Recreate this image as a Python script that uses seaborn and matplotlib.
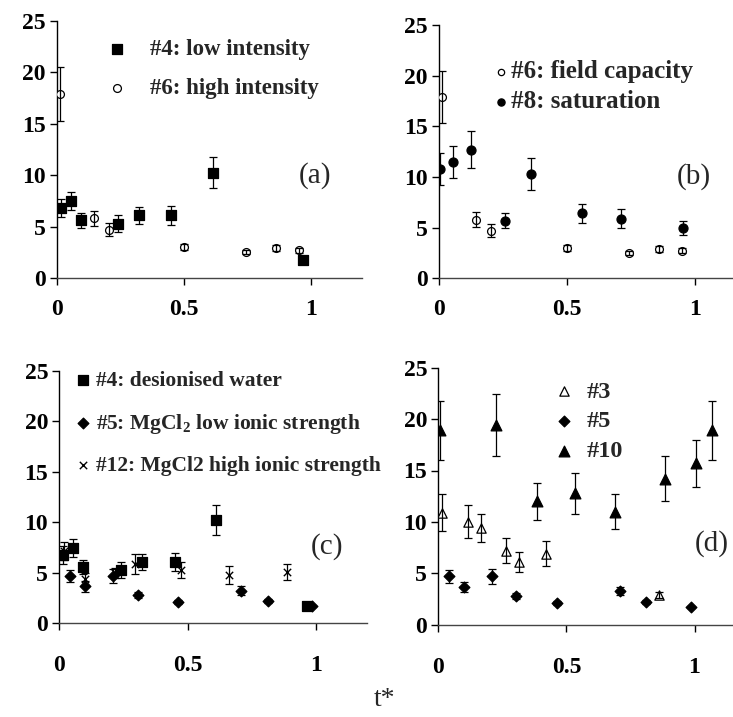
import numpy as np
import pandas as pd
import matplotlib
matplotlib.use("Agg")
import matplotlib.pyplot as plt
import seaborn as sns

# ---------------- data ----------------
# #4 (deionised water / low intensity) - panels (a) and (c)
t4 = [0.016, 0.054, 0.094, 0.24, 0.324, 0.45, 0.613, 0.966]
v4 = [6.8, 7.5, 5.6, 5.3, 6.1, 6.1, 10.25, 1.75]
e4 = [0.9, 0.9, 0.7, 0.8, 0.8, 0.9, 1.5, 0.0]

# #6 (high intensity / field capacity) - panels (a) and (b)
t6 = [0.01, 0.144, 0.203, 0.5, 0.742, 0.86, 0.952]
v6 = [17.9, 5.8, 4.7, 3.0, 2.5, 2.9, 2.7]
e6 = [2.6, 0.75, 0.65, 0.3, 0.2, 0.3, 0.25]

# #8 saturation - panel (b)
t8 = [0.004, 0.053, 0.124, 0.26, 0.36, 0.56, 0.713, 0.956]
v8 = [10.8, 11.5, 12.7, 5.7, 10.3, 6.4, 5.9, 5.0]
e8 = [1.6, 1.6, 1.8, 0.7, 1.6, 0.9, 0.9, 0.7]

# #5 MgCl2 low ionic strength - panels (c) and (d)
t5 = [0.042, 0.099, 0.208, 0.305, 0.463, 0.708, 0.812, 0.987]
v5 = [4.7, 3.65, 4.7, 2.8, 2.15, 3.25, 2.25, 1.7]
e5 = [0.6, 0.5, 0.7, 0.3, 0.2, 0.4, 0.2, 0.1]

# #12 MgCl2 high ionic strength - panel (c)
t12 = [0.02, 0.1, 0.217, 0.294, 0.473, 0.661, 0.888]
v12 = [7.2, 4.4, 5.0, 5.9, 5.3, 4.8, 5.1]
e12 = [0.9, 0.6, 0.5, 1.0, 0.8, 0.9, 0.8]

# #3 - panel (d)
t3 = [0.013, 0.115, 0.167, 0.266, 0.314, 0.42, 0.86]
v3 = [10.9, 10.0, 9.4, 7.2, 6.1, 6.9, 2.9]
e3 = [1.8, 1.6, 1.4, 1.2, 1.0, 1.2, 0.3]

# #10 - panel (d)
t10 = [0.007, 0.226, 0.384, 0.535, 0.69, 0.886, 1.007, 1.069]
v10 = [18.9, 19.4, 12.0, 12.8, 11.0, 14.2, 15.7, 18.9]
e10 = [2.9, 3.0, 1.8, 2.0, 1.7, 2.2, 2.3, 2.9]

y_ticks = [0, 5, 10, 15, 20, 25]
x_ticks = [0, 0.5, 1]
x_ticklabels = ["0", "0.5", "1"]
panel_labels = ["(a)", "(b)", "(c)", "(d)"]
x_label = "t*"

# ---------------- style ----------------
sns.set_theme(style="white")
plt.rcParams['font.family'] = ['Liberation Serif', 'DejaVu Serif']
plt.rcParams['mathtext.fontset'] = 'custom'
plt.rcParams['mathtext.rm'] = 'Liberation Serif'
plt.rcParams['mathtext.it'] = 'Liberation Serif:italic'
plt.rcParams['mathtext.bf'] = 'Liberation Serif:bold'
plt.rcParams['mathtext.default'] = 'bf'

FS_TICK = 17
FS_PANEL = 21

fig = plt.figure(figsize=(7.33, 7.17), dpi=100)

W, H = 733.0, 717.0
def axes_px(left, right, top, bottom):
    return fig.add_axes([left / W, 1 - bottom / H, (right - left) / W, (bottom - top) / H])

axA = axes_px(57, 362, 21, 278)
axB = axes_px(439, 733, 25, 278.3)
axC = axes_px(59.3, 367, 371, 623.3)
axD = axes_px(438.3, 733, 367.7, 624.7)


def series(ax, t, v, e, marker, filled, size, label, lw=0.9):
    df = pd.DataFrame({"t": t, "v": v})
    if marker == "x":
        sns.scatterplot(data=df, x="t", y="v", marker="x", s=size, color="black",
                        linewidth=1.0, label=label, ax=ax, zorder=3)
    else:
        sns.scatterplot(data=df, x="t", y="v", marker=marker, s=size,
                        color="black" if filled else "white", edgecolor="black",
                        linewidth=lw, label=label, ax=ax, zorder=3)
    ax.errorbar(t, v, yerr=e, fmt="none", ecolor="black", elinewidth=0.9,
                capsize=2.6, capthick=0.9, zorder=4)


def style_axes(ax, xmax, letter, lx, ly, xpad):
    ax.set_xlim(0, xmax)
    ax.set_ylim(0, 25)
    ax.set_xticks(x_ticks)
    ax.set_xticklabels(x_ticklabels)
    ax.set_yticks(y_ticks)
    ax.set_xlabel("")
    ax.set_ylabel("")
    for s in ["top", "right"]:
        ax.spines[s].set_visible(False)
    ax.spines["left"].set_color("black")
    ax.spines["left"].set_linewidth(1.0)
    ax.spines["bottom"].set_color("#444444")
    ax.spines["bottom"].set_linewidth(1.0)
    ax.tick_params(axis="y", direction="out", length=5, width=1, pad=3,
                   labelsize=FS_TICK, colors="black", left=True)
    ax.tick_params(axis="x", direction="out", length=5, width=1, pad=xpad,
                   labelsize=FS_TICK, colors="black", bottom=True)
    for lab in ax.get_xticklabels() + ax.get_yticklabels():
        lab.set_fontweight("bold")
    ax.patch.set_alpha(0)
    ax.text(lx, ly, letter, fontsize=FS_PANEL, ha="left", va="center")


def legend(ax, anchor, fs, hl, htp, ls, ms=1.0):
    ax.legend(loc="upper left", bbox_to_anchor=anchor, frameon=False,
              prop={"size": fs, "weight": "bold"}, handlelength=hl,
              handletextpad=htp, labelspacing=ls, borderpad=0,
              borderaxespad=0, markerscale=ms)


# ---- panel (a)
series(axA, t4, v4, e4, "s", True, 55, "#4: low intensity")
series(axA, t6, v6, e6, "o", False, 32, "#6: high intensity")
style_axes(axA, 1.2, panel_labels[0], 0.95, 10, 10)
legend(axA, (0.16, 0.93), 16.5, 1.0, 0.95, 0.78)

# ---- panel (b)
series(axB, t6, v6, e6, "o", False, 32, "#6: field capacity")
series(axB, t8, v8, e8, "o", True, 42, "#8: saturation")
style_axes(axB, 1.15, panel_labels[1], 0.93, 10, 10)
legend(axB, (0.19, 0.86), 18, 0.5, 0.15, 0.28, 0.8)

# ---- panel (c)
series(axC, t4, v4, e4, "s", True, 55, "#4: desionised water")
series(axC, t5, v5, e5, "D", True, 30, "#5: MgCl$_2$ low ionic strength")
series(axC, t12, v12, e12, "x", True, 28, "#12: MgCl2 high ionic strength")
style_axes(axC, 1.2, panel_labels[2], 0.98, 7.6, 18)
legend(axC, (0.055, 1.0), 15.5, 0.6, 0.3, 0.95)

# ---- panel (d)
series(axD, t3, v3, e3, "^", False, 45, "#3")
series(axD, t5, v5, e5, "D", True, 30, "#5")
series(axD, t10, v10, e10, "^", True, 60, "#10")
style_axes(axD, 1.15, panel_labels[3], 1.0, 7.9, 18)
legend(axD, (0.384, 0.95), 17.5, 1.0, 0.45, 0.32)

fig.text(385 / W, 1 - 700 / H, x_label, ha="center", va="center", fontsize=20)

fig.savefig("out.png", dpi=100)
